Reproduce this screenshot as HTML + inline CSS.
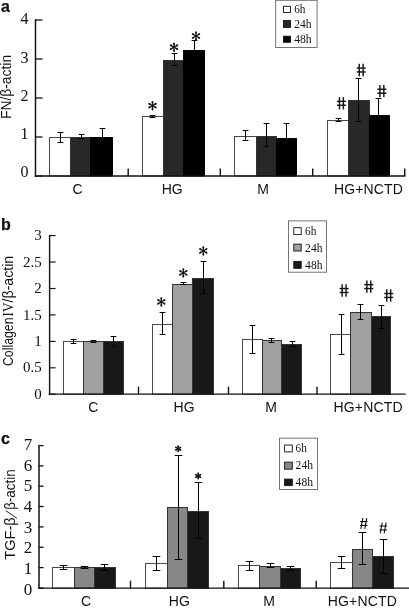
<!DOCTYPE html>
<html><head><meta charset="utf-8"><title>Figure</title>
<style>
html,body{margin:0;padding:0;background:#fff;}
body{width:409px;height:608px;overflow:hidden;font-family:"Liberation Sans",sans-serif;}
</style></head><body>
<svg width="409" height="608" viewBox="0 0 409 608" style="display:block;filter:blur(0.3px)"><rect x="49.50" y="137.50" width="21.00" height="38.50" fill="#fff" stroke="#484848" stroke-width="1"/><rect x="70.50" y="137.50" width="20.00" height="38.50" fill="#282828" stroke="#333" stroke-width="1"/><rect x="90.50" y="137.50" width="22.00" height="38.50" fill="#000" stroke="#000" stroke-width="1"/><rect x="142.50" y="116.50" width="21.00" height="59.50" fill="#fff" stroke="#484848" stroke-width="1"/><rect x="163.50" y="60.50" width="20.00" height="115.50" fill="#282828" stroke="#333" stroke-width="1"/><rect x="183.50" y="50.50" width="21.00" height="125.50" fill="#000" stroke="#000" stroke-width="1"/><rect x="234.50" y="136.50" width="22.00" height="39.50" fill="#fff" stroke="#484848" stroke-width="1"/><rect x="256.50" y="136.50" width="20.00" height="39.50" fill="#282828" stroke="#333" stroke-width="1"/><rect x="276.50" y="138.50" width="20.00" height="37.50" fill="#000" stroke="#000" stroke-width="1"/><rect x="327.50" y="120.50" width="21.00" height="55.50" fill="#fff" stroke="#484848" stroke-width="1"/><rect x="348.50" y="100.50" width="21.00" height="75.50" fill="#282828" stroke="#333" stroke-width="1"/><rect x="369.50" y="115.50" width="20.00" height="60.50" fill="#000" stroke="#000" stroke-width="1"/><line x1="60.50" y1="132.50" x2="60.50" y2="142.50" stroke="#000" stroke-width="1.0"/><line x1="57.60" y1="132.50" x2="63.40" y2="132.50" stroke="#000" stroke-width="1.0"/><line x1="57.60" y1="142.50" x2="63.40" y2="142.50" stroke="#000" stroke-width="1.0"/><line x1="81.50" y1="134.50" x2="81.50" y2="138.50" stroke="#000" stroke-width="1.0"/><line x1="78.60" y1="134.50" x2="84.40" y2="134.50" stroke="#000" stroke-width="1.0"/><line x1="78.60" y1="138.50" x2="84.40" y2="138.50" stroke="#000" stroke-width="1.0"/><line x1="102.50" y1="128.50" x2="102.50" y2="137.50" stroke="#000" stroke-width="1.0"/><line x1="99.60" y1="128.50" x2="105.40" y2="128.50" stroke="#000" stroke-width="1.0"/><line x1="99.60" y1="137.50" x2="105.40" y2="137.50" stroke="#000" stroke-width="1.0"/><line x1="152.50" y1="115.50" x2="152.50" y2="117.50" stroke="#000" stroke-width="1.0"/><line x1="149.60" y1="115.50" x2="155.40" y2="115.50" stroke="#000" stroke-width="1.0"/><line x1="149.60" y1="117.50" x2="155.40" y2="117.50" stroke="#000" stroke-width="1.0"/><line x1="174.50" y1="53.50" x2="174.50" y2="65.50" stroke="#000" stroke-width="1.0"/><line x1="171.60" y1="53.50" x2="177.40" y2="53.50" stroke="#000" stroke-width="1.0"/><line x1="171.60" y1="65.50" x2="177.40" y2="65.50" stroke="#000" stroke-width="1.0"/><line x1="194.50" y1="40.50" x2="194.50" y2="50.50" stroke="#000" stroke-width="1.0"/><line x1="191.60" y1="40.50" x2="197.40" y2="40.50" stroke="#000" stroke-width="1.0"/><line x1="191.60" y1="50.50" x2="197.40" y2="50.50" stroke="#000" stroke-width="1.0"/><line x1="245.50" y1="130.50" x2="245.50" y2="140.50" stroke="#000" stroke-width="1.0"/><line x1="242.60" y1="130.50" x2="248.40" y2="130.50" stroke="#000" stroke-width="1.0"/><line x1="242.60" y1="140.50" x2="248.40" y2="140.50" stroke="#000" stroke-width="1.0"/><line x1="266.50" y1="123.50" x2="266.50" y2="146.50" stroke="#000" stroke-width="1.0"/><line x1="263.60" y1="123.50" x2="269.40" y2="123.50" stroke="#000" stroke-width="1.0"/><line x1="263.60" y1="146.50" x2="269.40" y2="146.50" stroke="#000" stroke-width="1.0"/><line x1="286.50" y1="123.50" x2="286.50" y2="138.50" stroke="#000" stroke-width="1.0"/><line x1="283.60" y1="123.50" x2="289.40" y2="123.50" stroke="#000" stroke-width="1.0"/><line x1="283.60" y1="138.50" x2="289.40" y2="138.50" stroke="#000" stroke-width="1.0"/><line x1="338.50" y1="118.50" x2="338.50" y2="121.50" stroke="#000" stroke-width="1.0"/><line x1="335.60" y1="118.50" x2="341.40" y2="118.50" stroke="#000" stroke-width="1.0"/><line x1="335.60" y1="121.50" x2="341.40" y2="121.50" stroke="#000" stroke-width="1.0"/><line x1="358.50" y1="78.50" x2="358.50" y2="121.50" stroke="#000" stroke-width="1.0"/><line x1="355.60" y1="78.50" x2="361.40" y2="78.50" stroke="#000" stroke-width="1.0"/><line x1="355.60" y1="121.50" x2="361.40" y2="121.50" stroke="#000" stroke-width="1.0"/><line x1="378.50" y1="98.50" x2="378.50" y2="115.50" stroke="#000" stroke-width="1.0"/><line x1="375.60" y1="98.50" x2="381.40" y2="98.50" stroke="#000" stroke-width="1.0"/><line x1="375.60" y1="115.50" x2="381.40" y2="115.50" stroke="#000" stroke-width="1.0"/><line x1="35.5" y1="19.3" x2="35.5" y2="176.9" stroke="#111" stroke-width="1.45"/><line x1="34.6" y1="176" x2="405.5" y2="176" stroke="#111" stroke-width="1.5"/><line x1="35.5" y1="20.00" x2="42.5" y2="20.00" stroke="#111" stroke-width="1.3"/><text x="28.60" y="23.50" font-family="Liberation Serif" font-size="16" text-anchor="end" font-weight="normal" fill="#111" >4</text><line x1="35.5" y1="59.00" x2="42.5" y2="59.00" stroke="#111" stroke-width="1.3"/><text x="28.60" y="62.80" font-family="Liberation Serif" font-size="16" text-anchor="end" font-weight="normal" fill="#111" >3</text><line x1="35.5" y1="98.00" x2="42.5" y2="98.00" stroke="#111" stroke-width="1.3"/><text x="28.60" y="101.00" font-family="Liberation Serif" font-size="16" text-anchor="end" font-weight="normal" fill="#111" >2</text><line x1="35.5" y1="137.00" x2="42.5" y2="137.00" stroke="#111" stroke-width="1.3"/><text x="28.60" y="139.40" font-family="Liberation Serif" font-size="16" text-anchor="end" font-weight="normal" fill="#111" >1</text><line x1="35.5" y1="176.00" x2="42.5" y2="176.00" stroke="#111" stroke-width="1.3"/><text x="28.60" y="177.30" font-family="Liberation Serif" font-size="16" text-anchor="end" font-weight="normal" fill="#111" >0</text><line x1="128.20" y1="176" x2="128.20" y2="168.5" stroke="#111" stroke-width="1.4"/><line x1="220.30" y1="176" x2="220.30" y2="168.5" stroke="#111" stroke-width="1.4"/><line x1="312.70" y1="176" x2="312.70" y2="168.5" stroke="#111" stroke-width="1.4"/><line x1="404.70" y1="176" x2="404.70" y2="168.5" stroke="#111" stroke-width="1.4"/><text x="77.60" y="193.80" font-family="Liberation Sans" font-size="14" text-anchor="middle" font-weight="normal" fill="#111" >C</text><text x="172.20" y="193.80" font-family="Liberation Sans" font-size="14" text-anchor="middle" font-weight="normal" fill="#111" >HG</text><text x="263.10" y="193.80" font-family="Liberation Sans" font-size="14" text-anchor="middle" font-weight="normal" fill="#111" >M</text><text x="368.40" y="193.80" font-family="Liberation Sans" font-size="14" text-anchor="middle" font-weight="normal" fill="#111" textLength="69" lengthAdjust="spacing">HG+NCTD</text><line x1="152.50" y1="101.55" x2="152.50" y2="109.85" stroke="#111" stroke-width="1.25" stroke-linecap="round"/><circle cx="152.50" cy="102.38" r="1.0" fill="#111"/><circle cx="152.50" cy="109.02" r="1.0" fill="#111"/><line x1="148.91" y1="103.62" x2="156.09" y2="107.78" stroke="#111" stroke-width="1.25" stroke-linecap="round"/><circle cx="149.62" cy="104.04" r="1.0" fill="#111"/><circle cx="155.38" cy="107.36" r="1.0" fill="#111"/><line x1="156.09" y1="103.62" x2="148.91" y2="107.78" stroke="#111" stroke-width="1.25" stroke-linecap="round"/><circle cx="155.38" cy="104.04" r="1.0" fill="#111"/><circle cx="149.62" cy="107.36" r="1.0" fill="#111"/><line x1="174.00" y1="43.05" x2="174.00" y2="51.35" stroke="#111" stroke-width="1.25" stroke-linecap="round"/><circle cx="174.00" cy="43.88" r="1.0" fill="#111"/><circle cx="174.00" cy="50.52" r="1.0" fill="#111"/><line x1="170.41" y1="45.12" x2="177.59" y2="49.28" stroke="#111" stroke-width="1.25" stroke-linecap="round"/><circle cx="171.12" cy="45.54" r="1.0" fill="#111"/><circle cx="176.88" cy="48.86" r="1.0" fill="#111"/><line x1="177.59" y1="45.12" x2="170.41" y2="49.28" stroke="#111" stroke-width="1.25" stroke-linecap="round"/><circle cx="176.88" cy="45.54" r="1.0" fill="#111"/><circle cx="171.12" cy="48.86" r="1.0" fill="#111"/><line x1="196.00" y1="31.85" x2="196.00" y2="40.15" stroke="#111" stroke-width="1.25" stroke-linecap="round"/><circle cx="196.00" cy="32.68" r="1.0" fill="#111"/><circle cx="196.00" cy="39.32" r="1.0" fill="#111"/><line x1="192.41" y1="33.92" x2="199.59" y2="38.08" stroke="#111" stroke-width="1.25" stroke-linecap="round"/><circle cx="193.12" cy="34.34" r="1.0" fill="#111"/><circle cx="198.88" cy="37.66" r="1.0" fill="#111"/><line x1="199.59" y1="33.92" x2="192.41" y2="38.08" stroke="#111" stroke-width="1.25" stroke-linecap="round"/><circle cx="198.88" cy="34.34" r="1.0" fill="#111"/><circle cx="193.12" cy="37.66" r="1.0" fill="#111"/><line x1="339.45" y1="97.15" x2="339.45" y2="109.45" stroke="#111" stroke-width="1.42"/><line x1="343.35" y1="97.15" x2="343.35" y2="109.45" stroke="#111" stroke-width="1.42"/><line x1="336.90" y1="101.35" x2="345.90" y2="101.35" stroke="#111" stroke-width="1.42"/><line x1="336.90" y1="105.25" x2="345.90" y2="105.25" stroke="#111" stroke-width="1.42"/><line x1="359.25" y1="63.85" x2="359.25" y2="76.15" stroke="#111" stroke-width="1.42"/><line x1="363.15" y1="63.85" x2="363.15" y2="76.15" stroke="#111" stroke-width="1.42"/><line x1="356.70" y1="68.05" x2="365.70" y2="68.05" stroke="#111" stroke-width="1.42"/><line x1="356.70" y1="71.95" x2="365.70" y2="71.95" stroke="#111" stroke-width="1.42"/><line x1="379.95" y1="85.05" x2="379.95" y2="97.35" stroke="#111" stroke-width="1.42"/><line x1="383.85" y1="85.05" x2="383.85" y2="97.35" stroke="#111" stroke-width="1.42"/><line x1="377.40" y1="89.25" x2="386.40" y2="89.25" stroke="#111" stroke-width="1.42"/><line x1="377.40" y1="93.15" x2="386.40" y2="93.15" stroke="#111" stroke-width="1.42"/><rect x="275.7" y="0.3" width="41.400000000000034" height="47.2" fill="#fff" stroke="#666" stroke-width="0.9"/><rect x="283.50" y="6.30" width="7.00" height="6.20" fill="#fff" stroke="#111" stroke-width="0.9"/><text x="294.20" y="12.70" font-family="Liberation Serif" font-size="11.5" text-anchor="start" font-weight="normal" fill="#111" textLength="11.3" lengthAdjust="spacingAndGlyphs">6h</text><rect x="283.50" y="20.40" width="7.00" height="7.00" fill="#282828" stroke="#111" stroke-width="0.9"/><text x="294.20" y="27.60" font-family="Liberation Serif" font-size="11.5" text-anchor="start" font-weight="normal" fill="#111" textLength="17.4" lengthAdjust="spacingAndGlyphs">24h</text><rect x="283.50" y="36.20" width="7.00" height="6.10" fill="#000" stroke="#111" stroke-width="0.9"/><text x="294.20" y="42.90" font-family="Liberation Serif" font-size="11.5" text-anchor="start" font-weight="normal" fill="#111" textLength="17.4" lengthAdjust="spacingAndGlyphs">48h</text><text x="1.10" y="12.30" font-family="Liberation Sans" font-size="16" text-anchor="start" font-weight="bold" fill="#111" stroke="#111" stroke-width="0.25">a</text><text transform="translate(11.2,119) rotate(-90)" font-family="Liberation Sans" font-size="14" text-anchor="start" fill="#111" textLength="64.1" lengthAdjust="spacingAndGlyphs">FN/β-actin</text><rect x="63.50" y="341.50" width="20.00" height="52.70" fill="#fff" stroke="#484848" stroke-width="1"/><rect x="83.50" y="341.50" width="20.00" height="52.70" fill="#a0a0a0" stroke="#333" stroke-width="1"/><rect x="103.50" y="341.50" width="20.00" height="52.70" fill="#181818" stroke="#333" stroke-width="1"/><rect x="152.50" y="324.50" width="20.00" height="69.70" fill="#fff" stroke="#484848" stroke-width="1"/><rect x="172.50" y="284.50" width="20.00" height="109.70" fill="#a0a0a0" stroke="#333" stroke-width="1"/><rect x="192.50" y="278.50" width="21.00" height="115.70" fill="#181818" stroke="#333" stroke-width="1"/><rect x="242.50" y="339.50" width="20.00" height="54.70" fill="#fff" stroke="#484848" stroke-width="1"/><rect x="262.50" y="340.50" width="19.00" height="53.70" fill="#a0a0a0" stroke="#333" stroke-width="1"/><rect x="281.50" y="344.50" width="20.00" height="49.70" fill="#181818" stroke="#333" stroke-width="1"/><rect x="330.50" y="334.50" width="20.00" height="59.70" fill="#fff" stroke="#484848" stroke-width="1"/><rect x="350.50" y="312.50" width="21.00" height="81.70" fill="#a0a0a0" stroke="#333" stroke-width="1"/><rect x="371.50" y="316.50" width="19.00" height="77.70" fill="#181818" stroke="#333" stroke-width="1"/><line x1="73.50" y1="339.50" x2="73.50" y2="343.50" stroke="#000" stroke-width="1.0"/><line x1="70.60" y1="339.50" x2="76.40" y2="339.50" stroke="#000" stroke-width="1.0"/><line x1="70.60" y1="343.50" x2="76.40" y2="343.50" stroke="#000" stroke-width="1.0"/><line x1="93.50" y1="340.50" x2="93.50" y2="342.50" stroke="#000" stroke-width="1.0"/><line x1="90.60" y1="340.50" x2="96.40" y2="340.50" stroke="#000" stroke-width="1.0"/><line x1="90.60" y1="342.50" x2="96.40" y2="342.50" stroke="#000" stroke-width="1.0"/><line x1="113.50" y1="336.50" x2="113.50" y2="346.50" stroke="#000" stroke-width="1.0"/><line x1="110.60" y1="336.50" x2="116.40" y2="336.50" stroke="#000" stroke-width="1.0"/><line x1="110.60" y1="346.50" x2="116.40" y2="346.50" stroke="#000" stroke-width="1.0"/><line x1="162.50" y1="312.50" x2="162.50" y2="334.50" stroke="#000" stroke-width="1.0"/><line x1="159.60" y1="312.50" x2="165.40" y2="312.50" stroke="#000" stroke-width="1.0"/><line x1="159.60" y1="334.50" x2="165.40" y2="334.50" stroke="#000" stroke-width="1.0"/><line x1="183.50" y1="282.50" x2="183.50" y2="284.50" stroke="#000" stroke-width="1.0"/><line x1="180.60" y1="282.50" x2="186.40" y2="282.50" stroke="#000" stroke-width="1.0"/><line x1="180.60" y1="284.50" x2="186.40" y2="284.50" stroke="#000" stroke-width="1.0"/><line x1="203.50" y1="261.50" x2="203.50" y2="293.50" stroke="#000" stroke-width="1.0"/><line x1="200.60" y1="261.50" x2="206.40" y2="261.50" stroke="#000" stroke-width="1.0"/><line x1="200.60" y1="293.50" x2="206.40" y2="293.50" stroke="#000" stroke-width="1.0"/><line x1="252.50" y1="325.50" x2="252.50" y2="353.50" stroke="#000" stroke-width="1.0"/><line x1="249.60" y1="325.50" x2="255.40" y2="325.50" stroke="#000" stroke-width="1.0"/><line x1="249.60" y1="353.50" x2="255.40" y2="353.50" stroke="#000" stroke-width="1.0"/><line x1="271.50" y1="338.50" x2="271.50" y2="342.50" stroke="#000" stroke-width="1.0"/><line x1="268.60" y1="338.50" x2="274.40" y2="338.50" stroke="#000" stroke-width="1.0"/><line x1="268.60" y1="342.50" x2="274.40" y2="342.50" stroke="#000" stroke-width="1.0"/><line x1="292.50" y1="341.50" x2="292.50" y2="346.50" stroke="#000" stroke-width="1.0"/><line x1="289.60" y1="341.50" x2="295.40" y2="341.50" stroke="#000" stroke-width="1.0"/><line x1="289.60" y1="346.50" x2="295.40" y2="346.50" stroke="#000" stroke-width="1.0"/><line x1="341.50" y1="314.50" x2="341.50" y2="354.50" stroke="#000" stroke-width="1.0"/><line x1="338.60" y1="314.50" x2="344.40" y2="314.50" stroke="#000" stroke-width="1.0"/><line x1="338.60" y1="354.50" x2="344.40" y2="354.50" stroke="#000" stroke-width="1.0"/><line x1="360.50" y1="304.50" x2="360.50" y2="319.50" stroke="#000" stroke-width="1.0"/><line x1="357.60" y1="304.50" x2="363.40" y2="304.50" stroke="#000" stroke-width="1.0"/><line x1="357.60" y1="319.50" x2="363.40" y2="319.50" stroke="#000" stroke-width="1.0"/><line x1="381.50" y1="305.50" x2="381.50" y2="328.50" stroke="#000" stroke-width="1.0"/><line x1="378.60" y1="305.50" x2="384.40" y2="305.50" stroke="#000" stroke-width="1.0"/><line x1="378.60" y1="328.50" x2="384.40" y2="328.50" stroke="#000" stroke-width="1.0"/><line x1="49.6" y1="234.9" x2="49.6" y2="395.09999999999997" stroke="#111" stroke-width="1.4"/><line x1="48.7" y1="394.2" x2="405.7" y2="394.2" stroke="#111" stroke-width="1.3"/><line x1="49.6" y1="235.60" x2="55.6" y2="235.60" stroke="#111" stroke-width="1.15"/><text x="41.80" y="240.20" font-family="Liberation Serif" font-size="15" text-anchor="end" font-weight="normal" fill="#111" >3</text><line x1="49.6" y1="262.00" x2="55.6" y2="262.00" stroke="#111" stroke-width="1.15"/><text x="41.80" y="266.60" font-family="Liberation Serif" font-size="15" text-anchor="end" font-weight="normal" fill="#111" >2.5</text><line x1="49.6" y1="288.50" x2="55.6" y2="288.50" stroke="#111" stroke-width="1.15"/><text x="41.80" y="293.10" font-family="Liberation Serif" font-size="15" text-anchor="end" font-weight="normal" fill="#111" >2</text><line x1="49.6" y1="314.90" x2="55.6" y2="314.90" stroke="#111" stroke-width="1.15"/><text x="41.80" y="319.50" font-family="Liberation Serif" font-size="15" text-anchor="end" font-weight="normal" fill="#111" >1.5</text><line x1="49.6" y1="341.40" x2="55.6" y2="341.40" stroke="#111" stroke-width="1.15"/><text x="41.80" y="346.00" font-family="Liberation Serif" font-size="15" text-anchor="end" font-weight="normal" fill="#111" >1</text><line x1="49.6" y1="367.80" x2="55.6" y2="367.80" stroke="#111" stroke-width="1.15"/><text x="41.80" y="372.40" font-family="Liberation Serif" font-size="15" text-anchor="end" font-weight="normal" fill="#111" >0.5</text><line x1="49.6" y1="394.20" x2="55.6" y2="394.20" stroke="#111" stroke-width="1.15"/><text x="41.80" y="398.80" font-family="Liberation Serif" font-size="15" text-anchor="end" font-weight="normal" fill="#111" >0</text><line x1="138.50" y1="394.2" x2="138.50" y2="386.7" stroke="#111" stroke-width="1.4"/><line x1="228.50" y1="394.2" x2="228.50" y2="386.7" stroke="#111" stroke-width="1.4"/><line x1="317.00" y1="394.2" x2="317.00" y2="386.7" stroke="#111" stroke-width="1.4"/><text x="93.20" y="412.30" font-family="Liberation Sans" font-size="14" text-anchor="middle" font-weight="normal" fill="#111" >C</text><text x="184.10" y="412.30" font-family="Liberation Sans" font-size="14" text-anchor="middle" font-weight="normal" fill="#111" >HG</text><text x="271.00" y="412.30" font-family="Liberation Sans" font-size="14" text-anchor="middle" font-weight="normal" fill="#111" >M</text><text x="368.00" y="412.30" font-family="Liberation Sans" font-size="14" text-anchor="middle" font-weight="normal" fill="#111" textLength="69" lengthAdjust="spacing">HG+NCTD</text><line x1="161.30" y1="297.75" x2="161.30" y2="306.05" stroke="#111" stroke-width="1.25" stroke-linecap="round"/><circle cx="161.30" cy="298.58" r="1.0" fill="#111"/><circle cx="161.30" cy="305.22" r="1.0" fill="#111"/><line x1="157.71" y1="299.82" x2="164.89" y2="303.97" stroke="#111" stroke-width="1.25" stroke-linecap="round"/><circle cx="158.42" cy="300.24" r="1.0" fill="#111"/><circle cx="164.18" cy="303.56" r="1.0" fill="#111"/><line x1="164.89" y1="299.82" x2="157.71" y2="303.97" stroke="#111" stroke-width="1.25" stroke-linecap="round"/><circle cx="164.18" cy="300.24" r="1.0" fill="#111"/><circle cx="158.42" cy="303.56" r="1.0" fill="#111"/><line x1="183.30" y1="268.75" x2="183.30" y2="277.05" stroke="#111" stroke-width="1.25" stroke-linecap="round"/><circle cx="183.30" cy="269.58" r="1.0" fill="#111"/><circle cx="183.30" cy="276.22" r="1.0" fill="#111"/><line x1="179.71" y1="270.82" x2="186.89" y2="274.97" stroke="#111" stroke-width="1.25" stroke-linecap="round"/><circle cx="180.42" cy="271.24" r="1.0" fill="#111"/><circle cx="186.18" cy="274.56" r="1.0" fill="#111"/><line x1="186.89" y1="270.82" x2="179.71" y2="274.97" stroke="#111" stroke-width="1.25" stroke-linecap="round"/><circle cx="186.18" cy="271.24" r="1.0" fill="#111"/><circle cx="180.42" cy="274.56" r="1.0" fill="#111"/><line x1="203.30" y1="246.75" x2="203.30" y2="255.05" stroke="#111" stroke-width="1.25" stroke-linecap="round"/><circle cx="203.30" cy="247.58" r="1.0" fill="#111"/><circle cx="203.30" cy="254.22" r="1.0" fill="#111"/><line x1="199.71" y1="248.83" x2="206.89" y2="252.97" stroke="#111" stroke-width="1.25" stroke-linecap="round"/><circle cx="200.42" cy="249.24" r="1.0" fill="#111"/><circle cx="206.18" cy="252.56" r="1.0" fill="#111"/><line x1="206.89" y1="248.83" x2="199.71" y2="252.97" stroke="#111" stroke-width="1.25" stroke-linecap="round"/><circle cx="206.18" cy="249.24" r="1.0" fill="#111"/><circle cx="200.42" cy="252.56" r="1.0" fill="#111"/><line x1="342.15" y1="284.35" x2="342.15" y2="296.65" stroke="#111" stroke-width="1.42"/><line x1="346.05" y1="284.35" x2="346.05" y2="296.65" stroke="#111" stroke-width="1.42"/><line x1="339.60" y1="288.55" x2="348.60" y2="288.55" stroke="#111" stroke-width="1.42"/><line x1="339.60" y1="292.45" x2="348.60" y2="292.45" stroke="#111" stroke-width="1.42"/><line x1="366.85" y1="280.45" x2="366.85" y2="292.75" stroke="#111" stroke-width="1.42"/><line x1="370.75" y1="280.45" x2="370.75" y2="292.75" stroke="#111" stroke-width="1.42"/><line x1="364.30" y1="284.65" x2="373.30" y2="284.65" stroke="#111" stroke-width="1.42"/><line x1="364.30" y1="288.55" x2="373.30" y2="288.55" stroke="#111" stroke-width="1.42"/><line x1="386.75" y1="289.35" x2="386.75" y2="301.65" stroke="#111" stroke-width="1.42"/><line x1="390.65" y1="289.35" x2="390.65" y2="301.65" stroke="#111" stroke-width="1.42"/><line x1="384.20" y1="293.55" x2="393.20" y2="293.55" stroke="#111" stroke-width="1.42"/><line x1="384.20" y1="297.45" x2="393.20" y2="297.45" stroke="#111" stroke-width="1.42"/><rect x="288.5" y="220.9" width="38.0" height="51.29999999999998" fill="#fff" stroke="#666" stroke-width="0.9"/><rect x="293.80" y="227.70" width="7.40" height="6.90" fill="#fff" stroke="#111" stroke-width="0.9"/><text x="305.10" y="234.60" font-family="Liberation Serif" font-size="11.5" text-anchor="start" font-weight="normal" fill="#111" textLength="11.3" lengthAdjust="spacingAndGlyphs">6h</text><rect x="293.80" y="244.10" width="7.40" height="6.90" fill="#a0a0a0" stroke="#111" stroke-width="0.9"/><text x="305.10" y="251.60" font-family="Liberation Serif" font-size="11.5" text-anchor="start" font-weight="normal" fill="#111" textLength="17.4" lengthAdjust="spacingAndGlyphs">24h</text><rect x="293.80" y="261.40" width="7.40" height="6.90" fill="#181818" stroke="#111" stroke-width="0.9"/><text x="305.10" y="268.90" font-family="Liberation Serif" font-size="11.5" text-anchor="start" font-weight="normal" fill="#111" textLength="17.4" lengthAdjust="spacingAndGlyphs">48h</text><text x="0.90" y="230.20" font-family="Liberation Sans" font-size="16" text-anchor="start" font-weight="bold" fill="#111" stroke="#111" stroke-width="0.25">b</text><text transform="translate(12.6,366) rotate(-90)" font-family="Liberation Sans" font-size="14.2" text-anchor="start" fill="#111" textLength="48.5" lengthAdjust="spacingAndGlyphs">Collagen</text><text transform="translate(12.6,316.7) rotate(-90)" font-family="Liberation Serif" font-size="14.4" text-anchor="start" fill="#111" textLength="14.4" lengthAdjust="spacingAndGlyphs">IV</text><text transform="translate(12.6,302.4) rotate(-90)" font-family="Liberation Sans" font-size="14.2" text-anchor="start" fill="#111" textLength="46.6" lengthAdjust="spacingAndGlyphs">/β-actin</text><rect x="52.50" y="567.50" width="22.00" height="20.70" fill="#fff" stroke="#484848" stroke-width="1"/><rect x="74.50" y="567.50" width="20.00" height="20.70" fill="#878787" stroke="#333" stroke-width="1"/><rect x="94.50" y="567.50" width="21.00" height="20.70" fill="#181818" stroke="#333" stroke-width="1"/><rect x="145.50" y="563.50" width="22.00" height="24.70" fill="#fff" stroke="#484848" stroke-width="1"/><rect x="167.50" y="507.50" width="20.00" height="80.70" fill="#878787" stroke="#333" stroke-width="1"/><rect x="187.50" y="511.50" width="21.00" height="76.70" fill="#181818" stroke="#333" stroke-width="1"/><rect x="238.50" y="565.50" width="21.00" height="22.70" fill="#fff" stroke="#484848" stroke-width="1"/><rect x="259.50" y="566.50" width="21.00" height="21.70" fill="#878787" stroke="#333" stroke-width="1"/><rect x="280.50" y="568.50" width="20.00" height="19.70" fill="#181818" stroke="#333" stroke-width="1"/><rect x="330.50" y="562.50" width="22.00" height="25.70" fill="#fff" stroke="#484848" stroke-width="1"/><rect x="352.50" y="549.50" width="20.00" height="38.70" fill="#878787" stroke="#333" stroke-width="1"/><rect x="372.50" y="556.50" width="21.00" height="31.70" fill="#181818" stroke="#333" stroke-width="1"/><line x1="63.50" y1="565.50" x2="63.50" y2="569.50" stroke="#000" stroke-width="1.0"/><line x1="59.70" y1="565.50" x2="67.30" y2="565.50" stroke="#000" stroke-width="1.0"/><line x1="59.70" y1="569.50" x2="67.30" y2="569.50" stroke="#000" stroke-width="1.0"/><line x1="84.50" y1="566.50" x2="84.50" y2="568.50" stroke="#000" stroke-width="1.0"/><line x1="80.70" y1="566.50" x2="88.30" y2="566.50" stroke="#000" stroke-width="1.0"/><line x1="80.70" y1="568.50" x2="88.30" y2="568.50" stroke="#000" stroke-width="1.0"/><line x1="104.50" y1="564.50" x2="104.50" y2="570.50" stroke="#000" stroke-width="1.0"/><line x1="100.70" y1="564.50" x2="108.30" y2="564.50" stroke="#000" stroke-width="1.0"/><line x1="100.70" y1="570.50" x2="108.30" y2="570.50" stroke="#000" stroke-width="1.0"/><line x1="156.50" y1="556.50" x2="156.50" y2="570.50" stroke="#000" stroke-width="1.0"/><line x1="152.70" y1="556.50" x2="160.30" y2="556.50" stroke="#000" stroke-width="1.0"/><line x1="152.70" y1="570.50" x2="160.30" y2="570.50" stroke="#000" stroke-width="1.0"/><line x1="178.50" y1="455.50" x2="178.50" y2="559.50" stroke="#000" stroke-width="1.0"/><line x1="174.70" y1="455.50" x2="182.30" y2="455.50" stroke="#000" stroke-width="1.0"/><line x1="174.70" y1="559.50" x2="182.30" y2="559.50" stroke="#000" stroke-width="1.0"/><line x1="198.50" y1="482.50" x2="198.50" y2="538.50" stroke="#000" stroke-width="1.0"/><line x1="194.70" y1="482.50" x2="202.30" y2="482.50" stroke="#000" stroke-width="1.0"/><line x1="194.70" y1="538.50" x2="202.30" y2="538.50" stroke="#000" stroke-width="1.0"/><line x1="249.50" y1="561.50" x2="249.50" y2="570.50" stroke="#000" stroke-width="1.0"/><line x1="245.70" y1="561.50" x2="253.30" y2="561.50" stroke="#000" stroke-width="1.0"/><line x1="245.70" y1="570.50" x2="253.30" y2="570.50" stroke="#000" stroke-width="1.0"/><line x1="270.50" y1="563.50" x2="270.50" y2="567.50" stroke="#000" stroke-width="1.0"/><line x1="266.70" y1="563.50" x2="274.30" y2="563.50" stroke="#000" stroke-width="1.0"/><line x1="266.70" y1="567.50" x2="274.30" y2="567.50" stroke="#000" stroke-width="1.0"/><line x1="290.50" y1="566.50" x2="290.50" y2="570.50" stroke="#000" stroke-width="1.0"/><line x1="286.70" y1="566.50" x2="294.30" y2="566.50" stroke="#000" stroke-width="1.0"/><line x1="286.70" y1="570.50" x2="294.30" y2="570.50" stroke="#000" stroke-width="1.0"/><line x1="341.50" y1="556.50" x2="341.50" y2="568.50" stroke="#000" stroke-width="1.0"/><line x1="337.70" y1="556.50" x2="345.30" y2="556.50" stroke="#000" stroke-width="1.0"/><line x1="337.70" y1="568.50" x2="345.30" y2="568.50" stroke="#000" stroke-width="1.0"/><line x1="362.50" y1="532.50" x2="362.50" y2="564.50" stroke="#000" stroke-width="1.0"/><line x1="358.70" y1="532.50" x2="366.30" y2="532.50" stroke="#000" stroke-width="1.0"/><line x1="358.70" y1="564.50" x2="366.30" y2="564.50" stroke="#000" stroke-width="1.0"/><line x1="383.50" y1="539.50" x2="383.50" y2="573.50" stroke="#000" stroke-width="1.0"/><line x1="379.70" y1="539.50" x2="387.30" y2="539.50" stroke="#000" stroke-width="1.0"/><line x1="379.70" y1="573.50" x2="387.30" y2="573.50" stroke="#000" stroke-width="1.0"/><line x1="39" y1="444.90000000000003" x2="39" y2="589.1" stroke="#111" stroke-width="1.5"/><line x1="38.1" y1="588.2" x2="409" y2="588.2" stroke="#111" stroke-width="1.3"/><line x1="39" y1="445.60" x2="43.6" y2="445.60" stroke="#111" stroke-width="1.3"/><text x="32.30" y="449.90" font-family="Liberation Serif" font-size="17" text-anchor="end" font-weight="normal" fill="#111" >7</text><line x1="39" y1="465.90" x2="43.6" y2="465.90" stroke="#111" stroke-width="1.3"/><text x="32.30" y="470.58" font-family="Liberation Serif" font-size="17" text-anchor="end" font-weight="normal" fill="#111" >6</text><line x1="39" y1="486.20" x2="43.6" y2="486.20" stroke="#111" stroke-width="1.3"/><text x="32.30" y="491.26" font-family="Liberation Serif" font-size="17" text-anchor="end" font-weight="normal" fill="#111" >5</text><line x1="39" y1="506.50" x2="43.6" y2="506.50" stroke="#111" stroke-width="1.3"/><text x="32.30" y="511.94" font-family="Liberation Serif" font-size="17" text-anchor="end" font-weight="normal" fill="#111" >4</text><line x1="39" y1="526.90" x2="43.6" y2="526.90" stroke="#111" stroke-width="1.3"/><text x="32.30" y="532.62" font-family="Liberation Serif" font-size="17" text-anchor="end" font-weight="normal" fill="#111" >3</text><line x1="39" y1="547.30" x2="43.6" y2="547.30" stroke="#111" stroke-width="1.3"/><text x="32.30" y="553.30" font-family="Liberation Serif" font-size="17" text-anchor="end" font-weight="normal" fill="#111" >2</text><line x1="39" y1="567.60" x2="43.6" y2="567.60" stroke="#111" stroke-width="1.3"/><text x="32.30" y="573.98" font-family="Liberation Serif" font-size="17" text-anchor="end" font-weight="normal" fill="#111" >1</text><line x1="39" y1="588.20" x2="43.6" y2="588.20" stroke="#111" stroke-width="1.3"/><text x="32.30" y="594.66" font-family="Liberation Serif" font-size="17" text-anchor="end" font-weight="normal" fill="#111" >0</text><line x1="130.50" y1="588.2" x2="130.50" y2="580.7" stroke="#111" stroke-width="1.4"/><line x1="223.80" y1="588.2" x2="223.80" y2="580.7" stroke="#111" stroke-width="1.4"/><line x1="316.20" y1="588.2" x2="316.20" y2="580.7" stroke="#111" stroke-width="1.4"/><text x="86.00" y="606.30" font-family="Liberation Sans" font-size="14" text-anchor="middle" font-weight="normal" fill="#111" >C</text><text x="179.30" y="606.30" font-family="Liberation Sans" font-size="14" text-anchor="middle" font-weight="normal" fill="#111" >HG</text><text x="269.00" y="606.30" font-family="Liberation Sans" font-size="14" text-anchor="middle" font-weight="normal" fill="#111" >M</text><text x="362.30" y="606.40" font-family="Liberation Sans" font-size="14" text-anchor="middle" font-weight="normal" fill="#111" textLength="69" lengthAdjust="spacing">HG+NCTD</text><line x1="178.20" y1="445.80" x2="178.20" y2="451.60" stroke="#111" stroke-width="1.3" stroke-linecap="round"/><circle cx="178.20" cy="446.38" r="0.85" fill="#111"/><circle cx="178.20" cy="451.02" r="0.85" fill="#111"/><line x1="175.69" y1="447.25" x2="180.71" y2="450.15" stroke="#111" stroke-width="1.3" stroke-linecap="round"/><circle cx="176.19" cy="447.54" r="0.85" fill="#111"/><circle cx="180.21" cy="449.86" r="0.85" fill="#111"/><line x1="180.71" y1="447.25" x2="175.69" y2="450.15" stroke="#111" stroke-width="1.3" stroke-linecap="round"/><circle cx="180.21" cy="447.54" r="0.85" fill="#111"/><circle cx="176.19" cy="449.86" r="0.85" fill="#111"/><line x1="198.20" y1="473.00" x2="198.20" y2="478.80" stroke="#111" stroke-width="1.3" stroke-linecap="round"/><circle cx="198.20" cy="473.58" r="0.85" fill="#111"/><circle cx="198.20" cy="478.22" r="0.85" fill="#111"/><line x1="195.69" y1="474.45" x2="200.71" y2="477.35" stroke="#111" stroke-width="1.3" stroke-linecap="round"/><circle cx="196.19" cy="474.74" r="0.85" fill="#111"/><circle cx="200.21" cy="477.06" r="0.85" fill="#111"/><line x1="200.71" y1="474.45" x2="195.69" y2="477.35" stroke="#111" stroke-width="1.3" stroke-linecap="round"/><circle cx="200.21" cy="474.74" r="0.85" fill="#111"/><circle cx="196.19" cy="477.06" r="0.85" fill="#111"/><line x1="362.85" y1="518.10" x2="360.85" y2="528.90" stroke="#111" stroke-width="1.1"/><line x1="366.75" y1="518.10" x2="364.75" y2="528.90" stroke="#111" stroke-width="1.1"/><line x1="360.10" y1="521.55" x2="367.50" y2="521.55" stroke="#111" stroke-width="1.1"/><line x1="360.10" y1="525.45" x2="367.50" y2="525.45" stroke="#111" stroke-width="1.1"/><line x1="382.25" y1="522.60" x2="380.25" y2="533.40" stroke="#111" stroke-width="1.1"/><line x1="386.15" y1="522.60" x2="384.15" y2="533.40" stroke="#111" stroke-width="1.1"/><line x1="379.50" y1="526.05" x2="386.90" y2="526.05" stroke="#111" stroke-width="1.1"/><line x1="379.50" y1="529.95" x2="386.90" y2="529.95" stroke="#111" stroke-width="1.1"/><rect x="279.5" y="438.2" width="38.10000000000002" height="51.30000000000001" fill="#fff" stroke="#666" stroke-width="0.9"/><rect x="284.60" y="445.00" width="7.70" height="6.90" fill="#fff" stroke="#111" stroke-width="0.9"/><text x="295.60" y="452.20" font-family="Liberation Serif" font-size="11.5" text-anchor="start" font-weight="normal" fill="#111" textLength="11.3" lengthAdjust="spacingAndGlyphs">6h</text><rect x="284.60" y="462.10" width="7.70" height="7.10" fill="#878787" stroke="#111" stroke-width="0.9"/><text x="295.60" y="469.20" font-family="Liberation Serif" font-size="11.5" text-anchor="start" font-weight="normal" fill="#111" textLength="17.4" lengthAdjust="spacingAndGlyphs">24h</text><rect x="284.60" y="479.10" width="7.70" height="6.50" fill="#181818" stroke="#111" stroke-width="0.9"/><text x="295.60" y="485.90" font-family="Liberation Serif" font-size="11.5" text-anchor="start" font-weight="normal" fill="#111" textLength="17.4" lengthAdjust="spacingAndGlyphs">48h</text><text x="1.00" y="443.50" font-family="Liberation Sans" font-size="16" text-anchor="start" font-weight="bold" fill="#111" stroke="#111" stroke-width="0.25">c</text><text transform="translate(15.2,559.8) rotate(-90)" font-family="Liberation Sans" font-size="14" text-anchor="start" fill="#111" textLength="42.6" lengthAdjust="spacingAndGlyphs">TGF-β</text><line x1="17.0" y1="518.4" x2="5.7" y2="510.6" stroke="#111" stroke-width="0.9"/><text transform="translate(15.2,509.8) rotate(-90)" font-family="Liberation Sans" font-size="14" text-anchor="start" fill="#111" textLength="40.4" lengthAdjust="spacingAndGlyphs">β-actin</text></svg>
</body></html>
